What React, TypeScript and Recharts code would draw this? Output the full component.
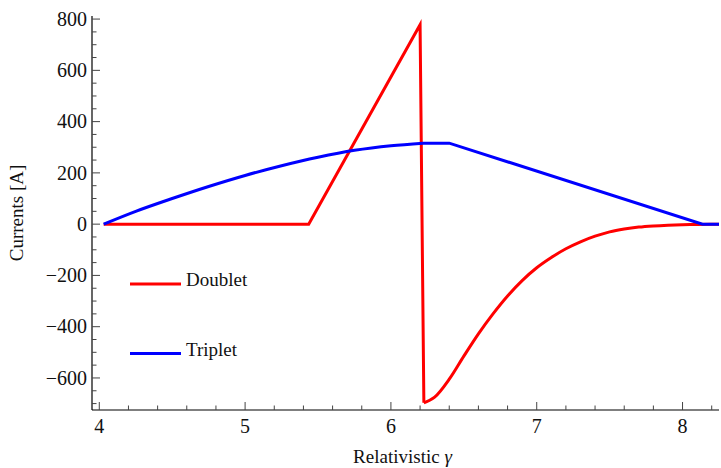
import { LineChart, Line, XAxis, YAxis } from 'recharts'

document.body.style.margin = '0'

type Pt = { g: number; i: number }

// Doublet: zero, linear ramp, then the sudden flip
const doubletRamp: Pt[] = [
  { g: 4.03, i: 0 },
  { g: 5.436, i: 0 },
  { g: 6.2, i: 778 },
  { g: 6.226, i: -697 },
]

// Doublet recovery after the flip (smooth)
const doubletTail: Pt[] = [
  { g: 6.226, i: -697 },
  { g: 6.3, i: -675 },
  { g: 6.4, i: -605 },
  { g: 6.5, i: -515 },
  { g: 6.6, i: -428 },
  { g: 6.7, i: -350 },
  { g: 6.8, i: -280 },
  { g: 6.9, i: -220 },
  { g: 7.0, i: -170 },
  { g: 7.1, i: -130 },
  { g: 7.2, i: -96 },
  { g: 7.3, i: -69 },
  { g: 7.4, i: -47 },
  { g: 7.5, i: -30 },
  { g: 7.6, i: -19 },
  { g: 7.7, i: -11.5 },
  { g: 7.8, i: -7 },
  { g: 7.9, i: -4 },
  { g: 8.0, i: -2 },
  { g: 8.1, i: -0.9 },
  { g: 8.25, i: 0 },
]

// Triplet: concave rise
const tripletRise: Pt[] = [
  { g: 4.03, i: 0 },
  { g: 4.25, i: 50 },
  { g: 4.5, i: 100 },
  { g: 4.75, i: 147 },
  { g: 5.0, i: 190 },
  { g: 5.25, i: 228 },
  { g: 5.5, i: 261 },
  { g: 5.75, i: 288 },
  { g: 6.0, i: 306 },
  { g: 6.22, i: 316 },
]

// Triplet: plateau then linear fall
const tripletFall: Pt[] = [
  { g: 6.22, i: 316 },
  { g: 6.4, i: 316 },
  { g: 8.137, i: 0 },
  { g: 8.25, i: 0 },
]

const xTicks = [4, 4.2, 4.4, 4.6, 4.8, 5, 5.2, 5.4, 5.6, 5.8, 6, 6.2, 6.4, 6.6, 6.8, 7, 7.2, 7.4, 7.6, 7.8, 8, 8.2]
const yTicks = [
  -700, -650, -600, -550, -500, -450, -400, -350, -300, -250, -200, -150, -100, -50,
  0, 50, 100, 150, 200, 250, 300, 350, 400, 450, 500, 550, 600, 650, 700, 750, 800,
]

const legendItems = [
  { name: 'Doublet', color: '#ff0000' },
  { name: 'Triplet', color: '#0000ff' },
]

const FONT = '"Liberation Serif", "DejaVu Serif", serif'
const W = 721
const H = 468

const isMajorX = (v: number) => Math.abs(v - Math.round(v)) < 1e-6
const isMajorY = (v: number) => Math.abs(v % 200) < 1e-6
const fmtY = (v: number) => (v < 0 ? `\u2212${Math.abs(v)}` : `${v}`)

const BottomTick = (props: any) => {
  const { x, y, payload } = props
  const major = isMajorX(payload.value)
  return (
    <g>
      <line x1={x} y1={y} x2={x} y2={y - (major ? 8 : 4.5)} stroke="#444" strokeWidth={1} />
      {major && (
        <text x={x} y={y + 23} textAnchor="middle" style={{ fontFamily: FONT, fontSize: 20 }} fill="#111">
          {Math.round(payload.value)}
        </text>
      )}
    </g>
  )
}

const TopTick = (props: any) => {
  const { x, y, payload } = props
  const major = isMajorX(payload.value)
  return <line x1={x} y1={y} x2={x} y2={y + (major ? 8 : 4.5)} stroke="#555" strokeWidth={1} />
}

const LeftTick = (props: any) => {
  const { x, y, payload } = props
  const major = isMajorY(payload.value)
  return (
    <g>
      <line x1={x} y1={y} x2={x + (major ? 8 : 4.5)} y2={y} stroke="#444" strokeWidth={1} />
      {major && (
        <text x={x - 5} y={y} dy="0.34em" textAnchor="end" style={{ fontFamily: FONT, fontSize: 20 }} fill="#111">
          {fmtY(payload.value)}
        </text>
      )}
    </g>
  )
}

const XLabel = (props: any) => {
  const vb = props.viewBox
  return (
    <text x={vb.x + vb.width / 2 - 3} y={vb.y + 53} textAnchor="middle" style={{ fontFamily: FONT, fontSize: 19 }} fill="#111">
      Relativistic <tspan fontStyle="italic">{'\u03b3'}</tspan>
    </text>
  )
}

const YLabel = (props: any) => {
  const vb = props.viewBox
  const cy = vb.y + vb.height / 2
  return (
    <text x={23} y={cy} transform={`rotate(-90 23 ${cy})`} textAnchor="middle" style={{ fontFamily: FONT, fontSize: 19 }} fill="#111">
      Currents [A]
    </text>
  )
}

export default function App() {
  return (
    <div style={{ position: 'relative', width: W, height: H, background: '#fff', fontFamily: FONT }}>
      <LineChart width={W} height={H} margin={{ top: 16, right: 2, bottom: 0, left: 0 }}>
        <XAxis
          xAxisId="b"
          dataKey="g"
          type="number"
          domain={[3.95, 8.25]}
          ticks={xTicks}
          interval={0}
          height={58}
          tickSize={0}
          tickMargin={0}
          tickLine={false}
          axisLine={{ stroke: '#000', strokeWidth: 1.2 }}
          tick={BottomTick}
          label={XLabel}
        />
        <XAxis
          xAxisId="t"
          orientation="top"
          dataKey="g"
          type="number"
          domain={[3.95, 8.25]}
          ticks={xTicks}
          interval={0}
          height={0}
          tickSize={0}
          tickMargin={0}
          tickLine={false}
          axisLine={{ stroke: '#777', strokeWidth: 1.2 }}
          tick={TopTick}
        />
        <YAxis
          type="number"
          domain={[-725, 812]}
          ticks={yTicks}
          interval={0}
          width={92}
          tickSize={0}
          tickMargin={0}
          tickLine={false}
          axisLine={{ stroke: '#000', strokeWidth: 1.2 }}
          tick={LeftTick}
          label={YLabel}
        />
        <Line xAxisId="b" data={doubletRamp} dataKey="i" type="linear" stroke="#ff0000" strokeWidth={3}
          dot={false} activeDot={false} isAnimationActive={false} />
        <Line xAxisId="b" data={doubletTail} dataKey="i" type="monotone" stroke="#ff0000" strokeWidth={3}
          dot={false} activeDot={false} isAnimationActive={false} />
        <Line xAxisId="b" data={tripletRise} dataKey="i" type="monotone" stroke="#0000ff" strokeWidth={3}
          dot={false} activeDot={false} isAnimationActive={false} />
        <Line xAxisId="b" data={tripletFall} dataKey="i" type="linear" stroke="#0000ff" strokeWidth={3}
          dot={false} activeDot={false} isAnimationActive={false} />
      </LineChart>

      {/* legend sits inside the plot, lower left */}
      <svg width={W} height={H} style={{ position: 'absolute', left: 0, top: 0, pointerEvents: 'none' }}>
        {legendItems.map((d, k) => {
          const y = 284 + k * 69.5
          return (
            <g key={d.name}>
              <line x1={130} x2={181} y1={y} y2={y} stroke={d.color} strokeWidth={3} />
              <text x={186} y={y + 2} style={{ fontFamily: FONT, fontSize: 19 }} fill="#111">
                {d.name}
              </text>
            </g>
          )
        })}
      </svg>
    </div>
  )
}
